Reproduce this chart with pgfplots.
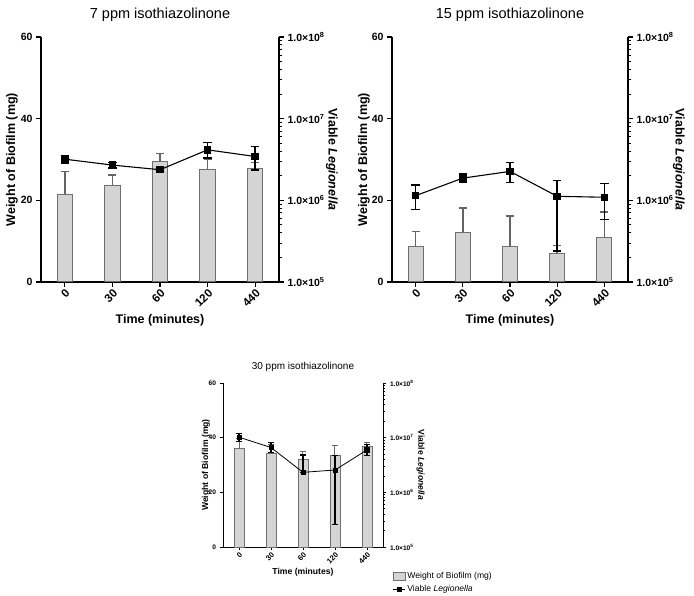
\documentclass[border=0pt]{standalone}
\usepackage{fontspec}
\setmainfont{Liberation Sans}
\usepackage{pgfplots}
\usepackage{pgfplotstable}
\pgfplotsset{compat=1.18}

\definecolor{barfill}{RGB}{212,212,212}
\definecolor{bardraw}{RGB}{112,112,112}
\definecolor{errgray}{RGB}{100,100,100}

% weight of biofilm (mg), mean and upper SD
\pgfplotstableread{
x w we
0 21.5 5.6
1 23.6 2.6
2 29.5 2.0
3 27.6 2.5
4 27.8 1.5
}\barA
\pgfplotstableread{
x w we
0 8.6 3.8
1 12.0 6.1
2 8.7 7.5
3 7.0 1.9
4 11.0 6.1
}\barB
\pgfplotstableread{
x w we
0 36.2 3.5
1 34.4 3.0
2 32.2 2.6
3 33.7 3.3
4 37.0 1.4
}\barC
% viable Legionella, mean, +err, -err
\pgfplotstableread{
x v vp vm
0 3.19e6 0.35e6 0.34e6
1 2.70e6 0.21e6 0.22e6
2 2.37e6 0.05e6 0.05e6
3 4.15e6 0.96e6 0.86e6
4 3.44e6 1.12e6 1.07e6
}\lineA
\pgfplotstableread{
x v vp vm
0 1.14e6 0.41e6 0.37e6
1 1.87e6 0.24e6 0.21e6
2 2.26e6 0.65e6 0.60e6
3 1.12e6 0.63e6 0.88e6
4 1.09e6 0.51e6 0.51e6
}\lineB
\pgfplotstableread{
x v vp vm
0 1.02e7 1.8e6 1.7e6
1 6.6e6 1.7e6 1.2e6
2 2.32e6 2.5e6 0
3 2.56e6 2.2e6 2.3e6
4 5.97e6 1.4e6 1.3e6
}\lineC

\pgfplotsset{
  bigpanel/.style={scale only axis, xmin=-0.5, xmax=4.5, clip=false,
    tick align=outside,
    axis line style={line width=1.3pt}, major tick style={line width=1.3pt, black},
    minor tick style={line width=1pt, black},
    major tick length=5pt, minor tick length=3pt,
    yticklabel style={font=\bfseries\fontsize{10.5}{12}\selectfont},
    xticklabel style={font=\bfseries\fontsize{11.5}{13}\selectfont},
    label style={font=\bfseries\fontsize{12.5}{14}\selectfont}},
  smallpanel/.style={scale only axis, xmin=-0.5, xmax=4.5, clip=false,
    tick align=outside,
    axis line style={line width=0.9pt}, major tick style={line width=0.9pt, black},
    minor tick style={line width=0.7pt, black},
    major tick length=3.5pt, minor tick length=2pt,
    yticklabel style={font=\bfseries\fontsize{6.6}{8}\selectfont},
    xticklabel style={font=\bfseries\fontsize{7.5}{8}\selectfont},
    label style={font=\bfseries\fontsize{8.6}{10}\selectfont}},
  wside/.style={axis x line*=bottom, axis y line*=left,
    ymin=0, ymax=60, ytick={0,20,40,60}, yticklabels={0,20,40,60},
    xtick={0,1,2,3,4}, xticklabels={0,30,60,120,440},
    xticklabel style={rotate=45, anchor=north east, inner sep=1pt},
    ylabel={Weight of Biofilm (mg)}, xlabel={Time (minutes)}},
  bigbars/.style={ybar, bar width=0.32, bar shift=0pt, fill=barfill, draw=bardraw, line width=1pt,
    error bars/y dir=plus, error bars/y explicit,
    error bars/error bar style={line width=1.5pt, errgray},
    error bars/error mark options={rotate=90, errgray, line width=1.5pt, mark size=4pt}},
  smallbars/.style={ybar, bar width=0.32, bar shift=0pt, fill=barfill, draw=bardraw, line width=0.7pt,
    error bars/y dir=plus, error bars/y explicit,
    error bars/error bar style={line width=1pt, errgray},
    error bars/error mark options={rotate=90, errgray, line width=1pt, mark size=2.8pt}},
  bigline/.style={black, line width=1.1pt, mark=square*, mark size=3.2pt,
    error bars/y dir=both, error bars/y explicit,
    error bars/error bar style={line width=1.6pt, black},
    error bars/error mark options={rotate=90, black, line width=1.6pt, mark size=4.2pt}},
  smallline/.style={black, line width=0.8pt, mark=square*, mark size=2.1pt,
    error bars/y dir=both, error bars/y explicit,
    error bars/error bar style={line width=1.1pt, black},
    error bars/error mark options={rotate=90, black, line width=1.1pt, mark size=2.8pt}},
}

\begin{document}
\begin{tikzpicture}
\useasboundingbox (0,0) rectangle (694pt,596pt);

% 7 ppm
\begin{axis}[bigpanel, wside, anchor=south west, at={(41pt,314pt)}, width=238pt, height=245pt,
  ylabel style={at={(rel axis cs:-0.122,0.5)}, anchor=center},
  xlabel style={at={(rel axis cs:0.5,-0.155)}, anchor=center}]
\addplot[bigbars] table[x=x, y=w, y error=we] {\barA};
\node[font=\fontsize{14.5}{16}\selectfont, anchor=center] at (rel axis cs:0.5,1.09) {7 ppm isothiazolinone};
\end{axis}
\begin{axis}[ymode=log, bigpanel, anchor=south west, at={(41pt,314pt)}, width=238pt, height=245pt,
  axis x line=none, axis y line*=right, ymin=1e5, ymax=1e8,
  ytick={1e5,1e6,1e7,1e8},
  yticklabels={1.0×10\textsuperscript{5},1.0×10\textsuperscript{6},1.0×10\textsuperscript{7},1.0×10\textsuperscript{8}},
  minor ytick={2e5,3e5,4e5,5e5,6e5,7e5,8e5,9e5,2e6,3e6,4e6,5e6,6e6,7e6,8e6,9e6,2e7,3e7,4e7,5e7,6e7,7e7,8e7,9e7},
  ylabel={Viable \textit{Legionella}},
  ylabel style={at={(rel axis cs:1.222,0.5)}, anchor=center, rotate=180}]
\addplot[bigline] table[x=x, y=v, y error plus=vp, y error minus=vm] {\lineA};
\end{axis}

% 15 ppm
\begin{axis}[bigpanel, wside, anchor=south west, at={(392pt,314pt)}, width=236pt, height=245pt,
  ylabel style={at={(rel axis cs:-0.119,0.5)}, anchor=center},
  xlabel style={at={(rel axis cs:0.5,-0.155)}, anchor=center}]
\addplot[bigbars] table[x=x, y=w, y error=we] {\barB};
\node[font=\fontsize{14.5}{16}\selectfont, anchor=center] at (rel axis cs:0.5,1.09) {15 ppm isothiazolinone};
\end{axis}
\begin{axis}[ymode=log, bigpanel, anchor=south west, at={(392pt,314pt)}, width=236pt, height=245pt,
  axis x line=none, axis y line*=right, ymin=1e5, ymax=1e8,
  ytick={1e5,1e6,1e7,1e8},
  yticklabels={1.0×10\textsuperscript{5},1.0×10\textsuperscript{6},1.0×10\textsuperscript{7},1.0×10\textsuperscript{8}},
  minor ytick={2e5,3e5,4e5,5e5,6e5,7e5,8e5,9e5,2e6,3e6,4e6,5e6,6e6,7e6,8e6,9e6,2e7,3e7,4e7,5e7,6e7,7e7,8e7,9e7},
  ylabel={Viable \textit{Legionella}},
  ylabel style={at={(rel axis cs:1.215,0.5)}, anchor=center, rotate=180}]
\addplot[bigline] table[x=x, y=v, y error plus=vp, y error minus=vm] {\lineB};
\end{axis}

% 30 ppm
\begin{axis}[smallpanel, wside, anchor=south west, at={(223pt,49pt)}, width=160pt, height=164pt,
  ylabel style={at={(rel axis cs:-0.106,0.5)}, anchor=center},
  xlabel style={at={(rel axis cs:0.5,-0.152)}, anchor=center}]
\addplot[smallbars] table[x=x, y=w, y error=we] {\barC};
\node[font=\fontsize{10}{12}\selectfont, anchor=center] at (rel axis cs:0.5,1.095) {30 ppm isothiazolinone};
\end{axis}
\begin{axis}[ymode=log, smallpanel, anchor=south west, at={(223pt,49pt)}, width=160pt, height=164pt,
  axis x line=none, axis y line*=right, ymin=1e5, ymax=1e8,
  ytick={1e5,1e6,1e7,1e8},
  yticklabels={1.0×10\textsuperscript{5},1.0×10\textsuperscript{6},1.0×10\textsuperscript{7},1.0×10\textsuperscript{8}},
  minor ytick={2e5,3e5,4e5,5e5,6e5,7e5,8e5,9e5,2e6,3e6,4e6,5e6,6e6,7e6,8e6,9e6,2e7,3e7,4e7,5e7,6e7,7e7,8e7,9e7},
  ylabel={Viable \textit{Legionella}},
  ylabel style={at={(rel axis cs:1.235,0.5)}, anchor=center, rotate=180},
  legend style={at={(rel axis cs:1.04,-0.13)}, anchor=north west, draw=none,
    font=\fontsize{8.6}{10}\selectfont, row sep=1.5pt},
  legend cell align=left]
\addlegendimage{legend image code/.code={\draw[fill=barfill, draw=bardraw, line width=0.7pt] (0pt,-3.8pt) rectangle (12pt,3.8pt);}}
\addlegendentry{Weight of Biofilm (mg)}
\addplot[smallline, legend image code/.code={\draw[black, line width=0.8pt] (0pt,0pt) -- (12pt,0pt); \fill[black] (4pt,-2pt) rectangle (8pt,2pt);}] table[x=x, y=v, y error plus=vp, y error minus=vm] {\lineC};
\addlegendentry{Viable \textit{Legionella}}
\end{axis}
\end{tikzpicture}
\end{document}
